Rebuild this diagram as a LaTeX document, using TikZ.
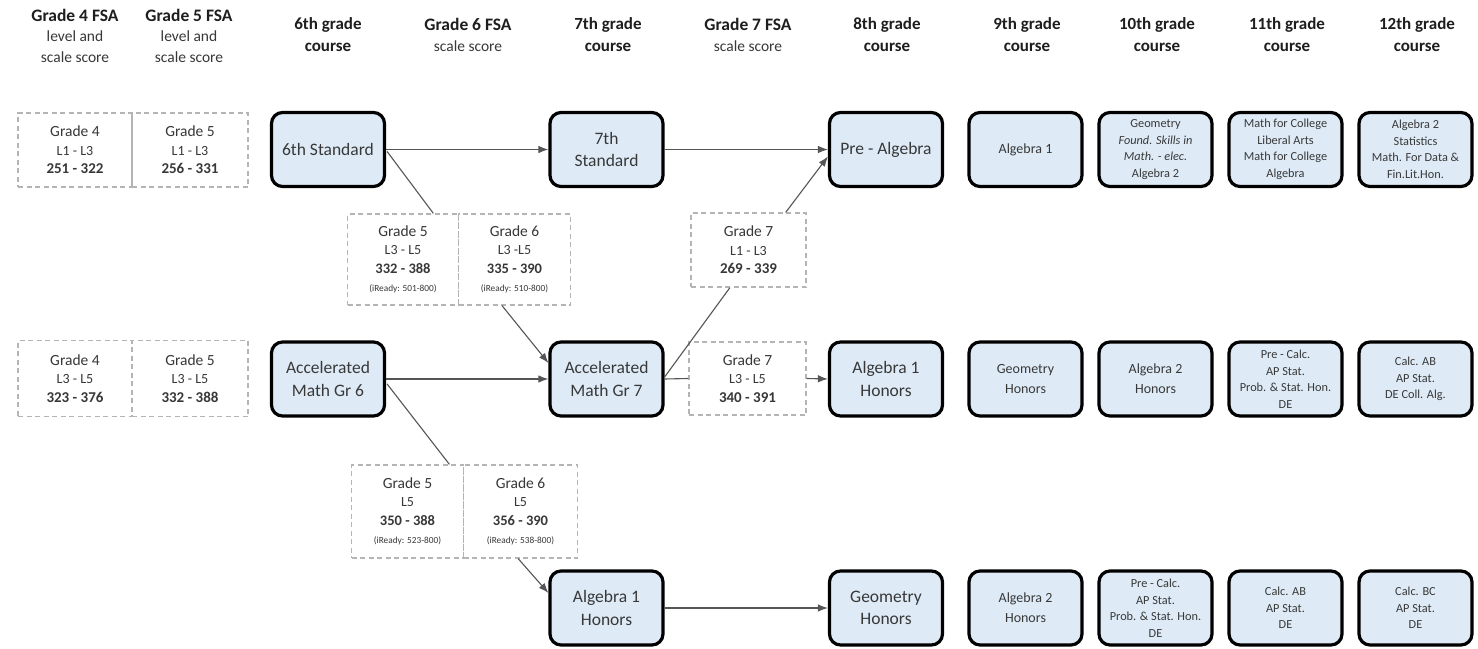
\documentclass[tikz,border=0pt]{standalone}
\usepackage{fontspec}
\setmainfont{Carlito}
\usetikzlibrary{arrows.meta,calc}
\definecolor{boxblue}{HTML}{DEEBF7}
\definecolor{dashgray}{HTML}{B4B4B4}
\definecolor{linegray}{HTML}{555555}
\definecolor{txt}{HTML}{383838}
\definecolor{hdr}{HTML}{1E1E1E}
\begin{document}
\begin{tikzpicture}[x=1pt,y=-1pt,
  course/.style={draw=black, line width=3.2pt, rounded corners=11pt, fill=boxblue,
    minimum width=113pt, minimum height=74pt, align=center, inner sep=2pt, text=txt,
    font=\fontsize{17.5}{22.5}\selectfont},
  smallcourse/.style={course, font=\fontsize{14}{20}\selectfont},
  tinycourse/.style={course, font=\fontsize{12.3}{16.5}\selectfont},
  score/.style={draw=dashgray, dash pattern=on 5pt off 3.5pt, line width=1.3pt,
    align=center, inner sep=1pt, text=txt, font=\fontsize{15.5}{18.5}\selectfont},
  header/.style={align=center, text=hdr, font=\bfseries\fontsize{17}{22}\selectfont},
  fsa/.style={align=center, text=hdr, font=\fontsize{15.5}{20.5}\selectfont},
  conn/.style={draw=linegray, line width=1.1pt},
  tip/.tip={Latex[length=10pt,width=7.5pt]}
]
\useasboundingbox[fill=white] (0,0) rectangle (1478,648);

% headers
\node[fsa] (h4) at (75,35.5) {{\bfseries\fontsize{17.5}{20.5}\selectfont Grade 4 FSA}\\ \textcolor{txt}{level and}\\ \textcolor{txt}{scale score}};
\node[fsa] (h5) at (189,35.5) {{\bfseries\fontsize{17.5}{20.5}\selectfont Grade 5 FSA}\\ \textcolor{txt}{level and}\\ \textcolor{txt}{scale score}};
\node[header] (h6) at (328,35) {6th grade\\course};
\node[fsa] (h6f) at (468,35) {{\bfseries\fontsize{17.5}{22}\selectfont Grade 6 FSA}\\ \textcolor{txt}{scale score}};
\node[header] (h7) at (608,35) {7th grade\\course};
\node[fsa] (h7f) at (748,35) {{\bfseries\fontsize{17.5}{22}\selectfont Grade 7 FSA}\\ \textcolor{txt}{scale score}};
\node[header] (h8) at (887,35) {8th grade\\course};
\node[header] (h9) at (1027,35) {9th grade\\course};
\node[header] (h10) at (1157,35) {10th grade\\course};
\node[header] (h11) at (1287,35) {11th grade\\course};
\node[header] (h12) at (1417,35) {12th grade\\course};

% left score boxes
\node[score, minimum width=114pt, minimum height=74pt] (l4a) at (75,150)
  {Grade 4\\{\fontsize{14}{18.5}\selectfont L1 - L3}\\{\bfseries\fontsize{15}{18.5}\selectfont 251 - 322}};
\node[score, minimum width=116pt, minimum height=74pt] (l5a) at (190,150)
  {Grade 5\\{\fontsize{14}{18.5}\selectfont L1 - L3}\\{\bfseries\fontsize{15}{18.5}\selectfont 256 - 331}};
\node[score, minimum width=114pt, minimum height=76pt] (l4b) at (75,378.5)
  {Grade 4\\{\fontsize{14}{17.5}\selectfont L3 - L5}\\{\bfseries\fontsize{15}{17.5}\selectfont 323 - 376}};
\node[score, minimum width=116pt, minimum height=76pt] (l5b) at (190,378.5)
  {Grade 5\\{\fontsize{14}{17.5}\selectfont L3 - L5}\\{\bfseries\fontsize{15}{17.5}\selectfont 332 - 388}};

% row 1 courses
\node[course] (s6) at (328,149.5) {6th Standard};
\node[course] (s7) at (606.5,149.5) {7th\\Standard};
\node[course] (pa) at (886,149.5) {Pre - Algebra};
\node[smallcourse] (c9a) at (1025.5,149.5) {Algebra 1};
\node[tinycourse] (c10a) at (1155.5,149.5) {Geometry\\\textit{Found. Skills in}\\\textit{Math. - elec.}\\Algebra 2};
\node[tinycourse] (c11a) at (1285.5,149.5) {Math for College\\Liberal Arts\\Math for College\\Algebra};
\node[tinycourse] (c12a) at (1415.5,149.5) {Algebra 2\\Statistics\\Math. For Data \&\\Fin.Lit.Hon.};

% middle score boxes
\node[score, minimum width=111pt, minimum height=91pt] (g5a) at (403,259.5)
  {Grade 5\\{\fontsize{14}{16.8}\selectfont L3 - L5}\\{\bfseries\fontsize{14.5}{16.8}\selectfont 332 - 388}\\{\fontsize{9.3}{15}\selectfont (iReady: 501-800)}};
\node[score, minimum width=112pt, minimum height=91pt] (g6a) at (514.5,259.5)
  {Grade 6\\{\fontsize{14}{16.8}\selectfont L3 -L5}\\{\bfseries\fontsize{14.5}{16.8}\selectfont 335 - 390}\\{\fontsize{9.3}{15}\selectfont (iReady: 510-800)}};
\node[score, minimum width=115pt, minimum height=74pt] (g7a) at (748.5,250)
  {Grade 7\\{\fontsize{14}{17}\selectfont L1 - L3}\\{\bfseries\fontsize{15}{17}\selectfont 269 - 339}};

% row 2 courses
\node[course] (a6) at (328,379) {Accelerated\\Math Gr 6};
\node[course] (a7) at (606.5,379) {Accelerated\\Math Gr 7};
\node[score, minimum width=117pt, minimum height=73pt] (g7b) at (747.5,378.5)
  {Grade 7\\{\fontsize{14}{17}\selectfont L3 - L5}\\{\bfseries\fontsize{15}{17}\selectfont 340 - 391}};
\node[course] (ah) at (886,379) {Algebra 1\\Honors};
\node[smallcourse] (c9b) at (1025.5,379) {Geometry\\Honors};
\node[smallcourse] (c10b) at (1155.5,379) {Algebra 2\\Honors};
\node[tinycourse] (c11b) at (1285.5,379) {Pre - Calc.\\AP Stat.\\Prob. \& Stat. Hon.\\DE};
\node[tinycourse] (c12b) at (1415.5,379) {Calc. AB\\AP Stat.\\DE Coll. Alg.};

% lower score boxes
\node[score, minimum width=112pt, minimum height=93pt] (g5b) at (407.5,511.5)
  {Grade 5\\{\fontsize{14}{16.8}\selectfont L5}\\{\bfseries\fontsize{14.5}{16.8}\selectfont 350 - 388}\\{\fontsize{9.3}{15}\selectfont (iReady: 523-800)}};
\node[score, minimum width=114pt, minimum height=93pt] (g6b) at (520.5,511.5)
  {Grade 6\\{\fontsize{14}{16.8}\selectfont L5}\\{\bfseries\fontsize{14.5}{16.8}\selectfont 356 - 390}\\{\fontsize{9.3}{15}\selectfont (iReady: 538-800)}};

% row 3 courses
\node[course] (b7) at (606.5,608) {Algebra 1\\Honors};
\node[course] (b8) at (886,608) {Geometry\\Honors};
\node[smallcourse] (c9c) at (1025.5,608) {Algebra 2\\Honors};
\node[tinycourse] (c10c) at (1155.5,608) {Pre - Calc.\\AP Stat.\\Prob. \& Stat. Hon.\\DE};
\node[tinycourse] (c11c) at (1285.5,608) {Calc. AB\\AP Stat.\\DE};
\node[tinycourse] (c12c) at (1415.5,608) {Calc. BC\\AP Stat.\\DE};

% connectors
\draw[conn,-{tip}] (s6.east) -- (s7.west);
\draw[conn] ($(s6.east)+(1,2)$) -- ($(g5a.north west)!0.77!(g5a.north east)$);
\draw[conn,-{tip}] ($(g6a.south west)!0.39!(g6a.south east)$) -- ($(a7.west)+(0,-16)$);
\draw[conn,-{tip}] (a6.east) -- (a7.west);
\draw[conn,-{tip}] (s7.east) -- (pa.west);
\draw[conn] ($(a7.east)+(0,-2)$) -- ($(g7a.south west)!0.34!(g7a.south east)$);
\draw[conn,-{tip}] ($(g7a.north west)!0.82!(g7a.north east)$) -- ($(pa.west)+(0,7)$);
\draw[conn] (a7.east) -- (g7b.west);
\draw[conn,-{tip}] (g7b.east) -- (ah.west);
\draw[conn] ($(a6.east)+(1,5)$) -- ($(g5b.north west)!0.87!(g5b.north east)$);
\draw[conn,-{tip}] ($(g6b.south west)!0.48!(g6b.south east)$) -- ($(b7.west)+(0,-15)$);
\draw[conn,-{tip}] (b7.east) -- (b8.west);
\end{tikzpicture}
\end{document}
